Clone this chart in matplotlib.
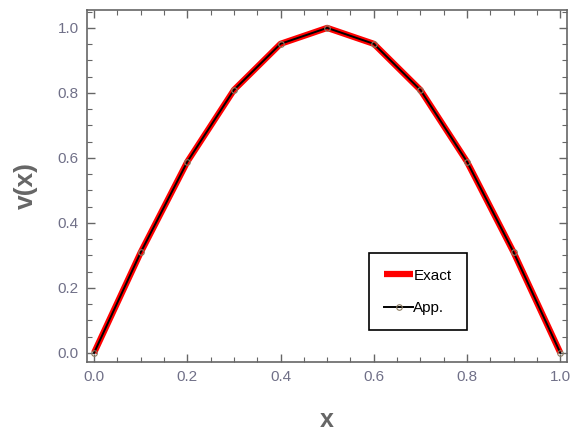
import matplotlib
matplotlib.use("Agg")
import matplotlib.pyplot as plt
from matplotlib.ticker import MultipleLocator

plt.rcParams["font.family"] = ["Liberation Sans", "DejaVu Sans"]

x_vals = [0.0, 0.1, 0.2, 0.3, 0.4, 0.5, 0.6, 0.7, 0.8, 0.9, 1.0]
v_exact = [0.0, 0.309, 0.588, 0.809, 0.951, 1.0, 0.951, 0.809, 0.588, 0.309, 0.0]
v_app = [0.0, 0.309, 0.588, 0.809, 0.951, 1.0, 0.951, 0.809, 0.588, 0.309, 0.0]

TICK_COLOR = "#707088"
LABEL_COLOR = "#666666"
FRAME = "#666666"

fig = plt.figure(figsize=(5.73, 4.36), dpi=100)
ax = fig.add_axes([0.152, 0.170, 0.838, 0.807])

ax.plot(x_vals, v_exact, color="#ff0000", lw=4.5, label="Exact", solid_capstyle="butt")
ax.plot(x_vals, v_app, color="black", lw=1.4, marker="o", ms=4,
        mfc="none", mec="#8a7a60", mew=0.8, label="App.")

ax.set_xlim(-0.015, 1.015)
ax.set_ylim(-0.028, 1.055)
ax.xaxis.set_major_locator(MultipleLocator(0.2))
ax.xaxis.set_minor_locator(MultipleLocator(0.05))
ax.yaxis.set_major_locator(MultipleLocator(0.2))
ax.yaxis.set_minor_locator(MultipleLocator(0.05))

ax.tick_params(which="both", direction="in", top=True, right=True,
               color=FRAME, labelcolor=TICK_COLOR, labelsize=11)
ax.tick_params(which="major", length=6, width=1, pad=6)
ax.tick_params(which="minor", length=3.5, width=0.8)
ax.xaxis.set_major_formatter(plt.FuncFormatter(lambda v, p: f"{v:.1f}"))
ax.yaxis.set_major_formatter(plt.FuncFormatter(lambda v, p: f"{v:.1f}"))
for s in ax.spines.values():
    s.set_color(FRAME)
    s.set_linewidth(1.2)

ax.set_xlabel("x", fontsize=18, fontweight="bold", color=LABEL_COLOR, labelpad=17)
ax.set_ylabel("v(x)", fontsize=19, fontweight="bold", color=LABEL_COLOR, labelpad=14)

leg = ax.legend(loc="lower left", bbox_to_anchor=(0.587, 0.09), fancybox=False,
                edgecolor="black", framealpha=1, fontsize=11, handlelength=1.9,
                handletextpad=0.0, borderpad=1.0, borderaxespad=0,
                labelspacing=1.2)
leg.get_frame().set_linewidth(1.2)

fig.savefig("out.png", dpi=100, facecolor="white")
